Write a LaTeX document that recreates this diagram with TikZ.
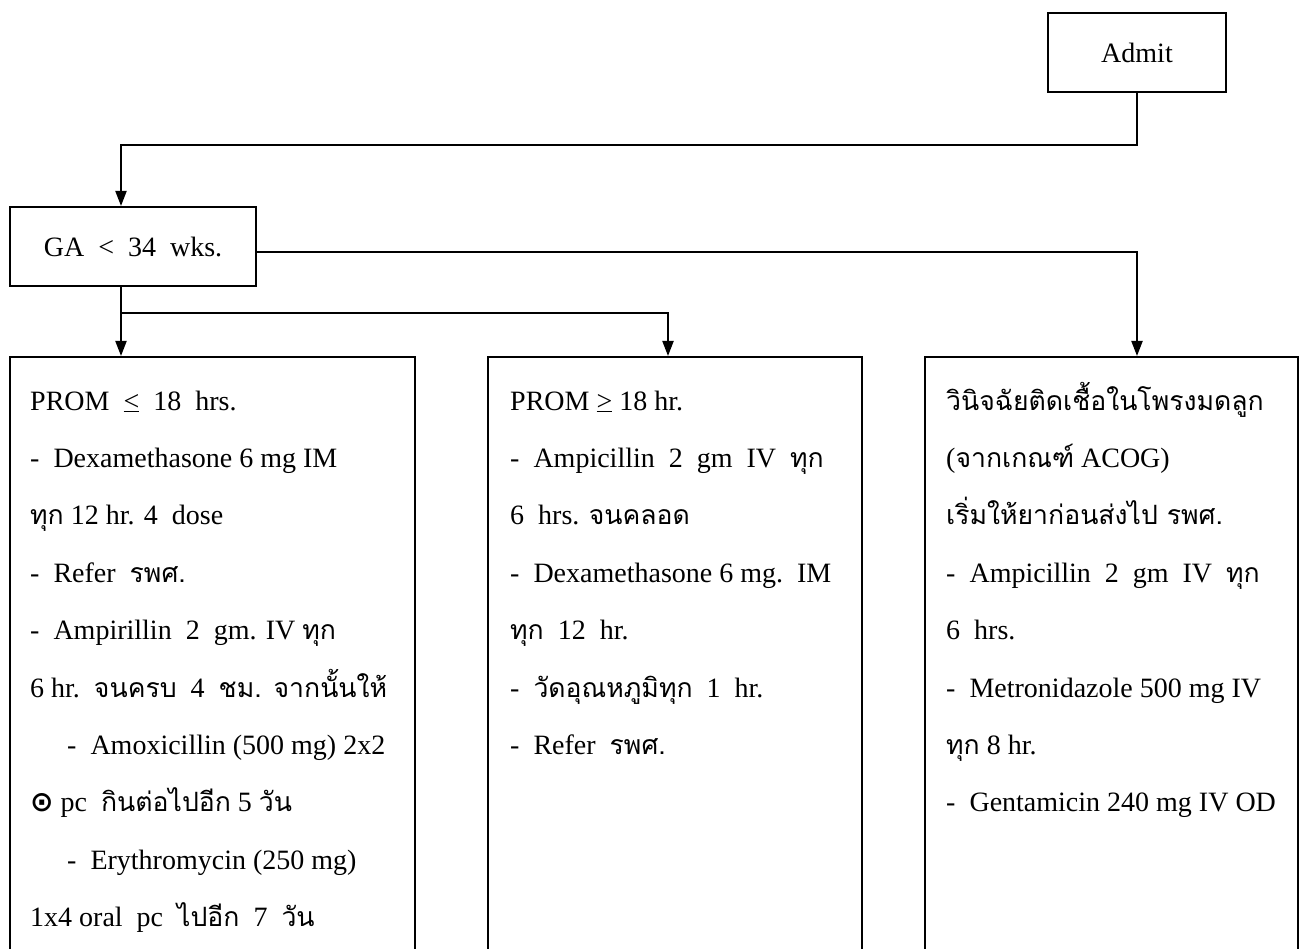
\documentclass[tikz,border=0pt]{standalone}
\usepackage{fontspec}
\setmainfont{Liberation Serif}
\newfontfamily\thai[Script=Thai,Scale=0.95]{Loma}
\newfontfamily\symf{DejaVu Sans}
\usetikzlibrary{arrows.meta}
\tikzset{
  box/.style={draw, line width=2pt, inner sep=0pt},
  arr/.style={line width=2pt, -{Triangle[length=15pt,width=11pt]}},
  ln/.style={anchor=base west, inner sep=0pt, font=\fontsize{28}{34}\selectfont},
}
\newcommand{\T}[1]{{\thai #1}}
\begin{document}
\begin{tikzpicture}[x=1pt,y=-1pt]
\useasboundingbox (0,0) rectangle (1303,949);
\clip (0,0) rectangle (1303,949);
% boxes
\node[box, minimum width=178pt, minimum height=79pt, font=\fontsize{28}{34}\selectfont] (admit) at (1137,52.5) {Admit};
\node[box, minimum width=246pt, minimum height=79pt, font=\fontsize{28}{34}\selectfont] (ga) at (133,246.5) {GA~~<~~34~~wks.};
\node[box, minimum width=405pt, minimum height=640pt] (p1) at (212.5,677) {};
\node[box, minimum width=374pt, minimum height=640pt] (p2) at (675,677) {};
\node[box, minimum width=373pt, minimum height=640pt] (p3) at (1111.5,677) {};
% helper coordinates
\coordinate (gx) at (121,0);
\coordinate (mx) at (668,0);
% connectors
\draw[arr] (admit.south) -- ++(0,52) -| (gx |- ga.north);
\draw[arr] (gx |- ga.south) -- (gx |- p1.north);
\draw[arr] (gx |- ga.south) -- ++(0,26) -| (mx |- p2.north);
\draw[arr] ([yshift=-6pt]ga.east) -| (admit.south |- p3.north);
% left box text
\node[ln] (l0) at (30,410) {PROM~~\underline{<}~~18~~hrs.};
\node[ln] (l1) at (30,467.4) {-~~Dexamethasone 6 mg IM};
\node[ln] (l2) at (30,524.8) {\T{ทุก} 12 hr. 4~~dose};
\node[ln] (l3) at (30,582.2) {-~~Refer~~\T{รพศ.}};
\node[ln] (l4) at (30,639.6) {-~~Ampirillin~~2~~gm. IV \T{ทุก}};
\node[ln] (l5) at (30,697) {6 hr.~~\T{จนครบ}~~4~~\T{ชม. จากนั้นให้}};
\node[ln] (l6) at (67,754.4) {-~~Amoxicillin (500 mg) 2x2};
\node[ln] (l7) at (30,811.8) {{\symf\bfseries ⊙} pc~~\T{กินต่อไปอีก} 5 \T{วัน}};
\node[ln] (l8) at (67,869.2) {-~~Erythromycin (250 mg)};
\node[ln] (l9) at (30,926.6) {1x4 oral~~pc~~\T{ไปอีก}~~7~~\T{วัน}};
% middle box text
\node[ln] (m0) at (510,410) {PROM \underline{>} 18 hr.};
\node[ln] (m1) at (510,467.4) {-~~Ampicillin~~2~~gm~~IV~~\T{ทุก}};
\node[ln] (m2) at (510,524.8) {6~~hrs. \T{จนคลอด}};
\node[ln] (m3) at (510,582.2) {-~~Dexamethasone 6 mg.~~IM};
\node[ln] (m4) at (510,639.6) {\T{ทุก}~~12~~hr.};
\node[ln] (m5) at (510,697) {-~~\T{วัดอุณหภูมิทุก}~~1~~hr.};
\node[ln] (m6) at (510,754.4) {-~~Refer~~\T{รพศ.}};
% right box text
\node[ln] (r0) at (946,410) {\T{วินิจฉัยติดเชื้อในโพรงมดลูก}};
\node[ln] (r1) at (946,467.4) {(\T{จากเกณฑ์} ACOG)};
\node[ln] (r2) at (946,524.8) {\T{เริ่มให้ยาก่อนส่งไป รพศ.}};
\node[ln] (r3) at (946,582.2) {-~~Ampicillin~~2~~gm~~IV~~\T{ทุก}};
\node[ln] (r4) at (946,639.6) {6~~hrs.};
\node[ln] (r5) at (946,697) {-~~Metronidazole 500 mg IV};
\node[ln] (r6) at (946,754.4) {\T{ทุก} 8 hr.};
\node[ln] (r7) at (946,811.8) {-~~Gentamicin 240 mg IV OD};
\end{tikzpicture}
\end{document}
